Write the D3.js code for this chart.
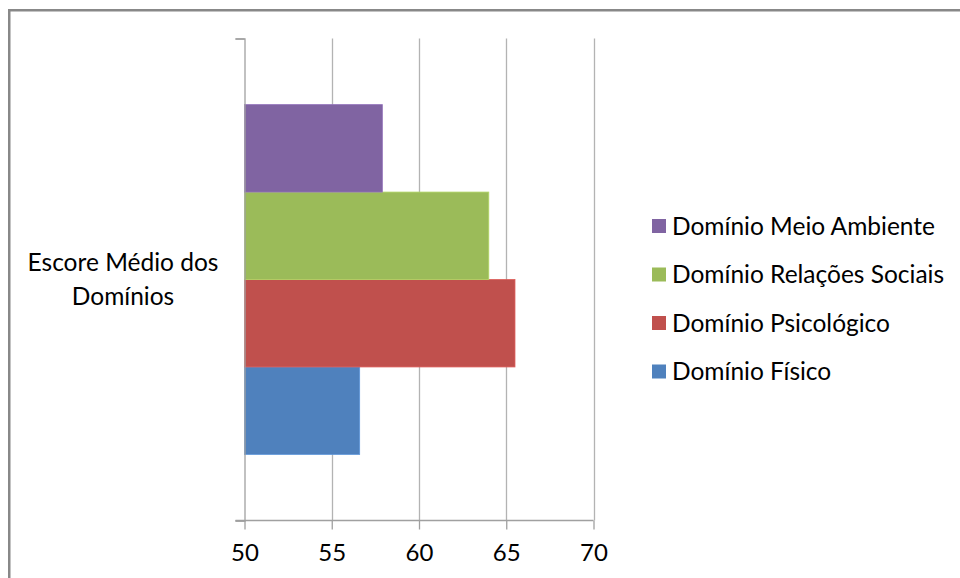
<!DOCTYPE html>
<html>
  <head>
    <meta charset="utf-8">
    <title>Escore Médio dos Domínios</title>
    <script src="https://d3js.org/d3.v7.min.js"></script>
    <style>
      body { margin: 0; background: #fff; }
      text { font-family: Lato, "Open Sans", sans-serif; fill: #000; }
    </style>
  </head>
  <body>
    <script>
      // data
      const categories = ["Escore Médio dos Domínios"];
      const series = ["Domínio Físico", "Domínio Psicológico", "Domínio Relações Sociais", "Domínio Meio Ambiente"];
      const values = [56.6, 65.5, 64.0, 57.9];
      const colors = ["#4F81BD", "#C0504D", "#9BBB59", "#8064A2"];
      const xTicks = [50, 55, 60, 65, 70];

      const width = 960;
      const height = 578;
      const plot = {left: 244.5, right: 593.5, top: 38.5, bottom: 520.5};

      const svg = d3.select("body")
        .append("svg")
          .attr("width", width)
          .attr("height", height);

      // outer chart frame (runs off the right and bottom edges)
      svg.append("rect")
        .attr("x", 9.25)
        .attr("y", 10.25)
        .attr("width", 1000)
        .attr("height", 600)
        .attr("fill", "none")
        .attr("stroke", "#888")
        .attr("stroke-width", 2.5);

      const xScale = d3.scaleLinear()
        .domain([50, 70])
        .range([plot.left, plot.right]);

      const yOuter = d3.scaleBand()
        .domain(categories)
        .range([plot.top, plot.bottom])
        .paddingInner(0)
        .paddingOuter(0.189);

      // first series sits at the bottom, like Excel
      const yInner = d3.scaleBand()
        .domain(series.slice().reverse())
        .range([0, yOuter.bandwidth()]);

      // gridlines
      svg.append("g")
        .selectAll("line")
        .data(xTicks.slice(1))
        .enter().append("line")
          .attr("x1", function(d) { return Math.round(xScale(d)) + 0.5; })
          .attr("x2", function(d) { return Math.round(xScale(d)) + 0.5; })
          .attr("y1", plot.top)
          .attr("y2", plot.bottom)
          .attr("stroke", "#b3b3b3")
          .attr("stroke-width", 1.3);

      // bars
      const barGroup = svg.append("g")
        .attr("transform", "translate(0," + yOuter(categories[0]) + ")");

      series.forEach(function(s, i) {
        barGroup.append("rect")
          .attr("x", xScale(50))
          .attr("y", yInner(s))
          .attr("width", xScale(values[i]) - xScale(50))
          .attr("height", yInner.bandwidth())
          .attr("fill", colors[i])
          .attr("stroke", d3.color(colors[i]).brighter(0.4))
          .attr("stroke-width", 0.8);
      });

      // x axis
      const xAxis = d3.axisBottom(xScale)
        .tickValues(xTicks)
        .tickSize(9)
        .tickPadding(14);

      const gx = svg.append("g")
        .attr("transform", "translate(0," + plot.bottom + ")")
        .call(xAxis);
      gx.select(".domain").remove();
      gx.append("line")
        .attr("x1", plot.left - 9)
        .attr("x2", plot.right)
        .attr("stroke", "#a0a0a0")
        .attr("stroke-width", 1.3);
      gx.selectAll(".tick line").attr("stroke", "#a0a0a0").attr("stroke-width", 1.3);
      gx.selectAll(".tick text")
        .style("font-size", "24px")
        .attr("fill", "#000");

      // y axis: single category, boundary ticks at top and bottom
      const yAxisScale = d3.scaleLinear().domain([0, 1]).range([plot.bottom, plot.top]);
      const yAxis = d3.axisLeft(yAxisScale)
        .tickValues([0, 1])
        .tickSize(9)
        .tickFormat("");
      const gy = svg.append("g")
        .attr("transform", "translate(" + plot.left + ",0)")
        .call(yAxis);
      gy.select(".domain").attr("stroke", "#a0a0a0").attr("stroke-width", 1.3);
      gy.selectAll(".tick line").attr("stroke", "#a0a0a0").attr("stroke-width", 1.3);

      // category label, wrapped onto two lines
      const catLabel = svg.append("text")
        .attr("text-anchor", "middle")
        .style("font-size", "24.5px");
      const words = categories[0].split(" ");
      const lines = [words.slice(0, 3).join(" "), words.slice(3).join(" ")];
      lines.forEach(function(l, i) {
        catLabel.append("tspan")
          .attr("x", 123)
          .attr("y", 271 + i * 33.5)
          .text(l);
      });

      // legend
      const legendOrder = series.slice().reverse();
      const legend = svg.append("g");
      legendOrder.forEach(function(s, i) {
        const idx = series.indexOf(s);
        const cy = 226 + i * 48.5;
        legend.append("rect")
          .attr("x", 652)
          .attr("y", cy - 7)
          .attr("width", 14)
          .attr("height", 14)
          .attr("fill", colors[idx]);
        legend.append("text")
          .attr("x", 672)
          .attr("y", cy)
          .attr("dy", "0.36em")
          .style("font-size", "24.5px")
          .text(s);
      });
    </script>
  </body>
</html>
